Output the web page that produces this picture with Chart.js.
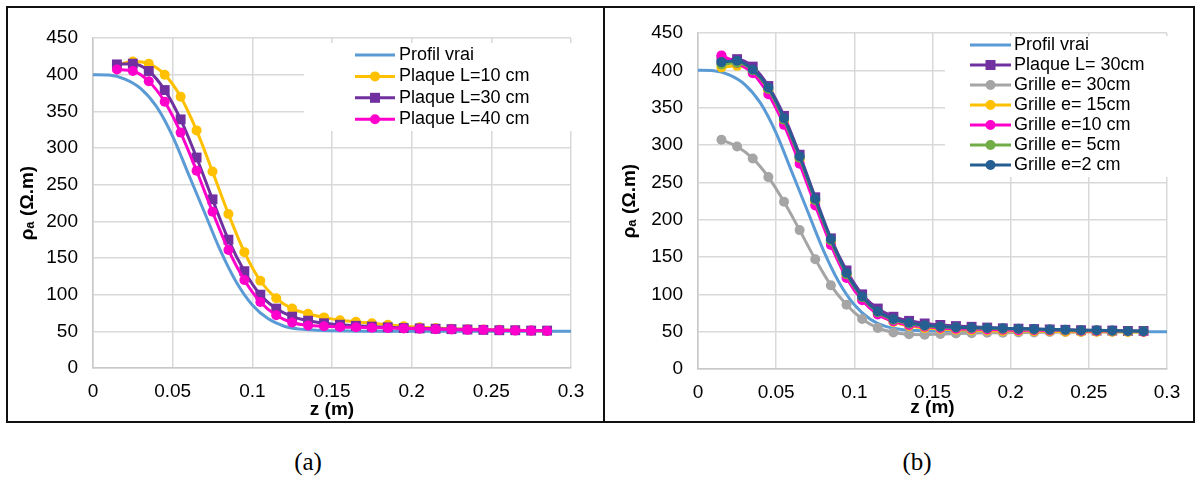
<!DOCTYPE html>
<html>
<head>
<meta charset="utf-8">
<script src="https://cdn.jsdelivr.net/npm/chart.js"></script>
<style>
  body { margin: 0; background: #fff; width: 1197px; height: 479px; position: relative; overflow: hidden; }
  canvas { position: absolute; top: 0; }
  #chartA { left: 0; }
  #chartB { left: 603px; }
  .frame { position: absolute; top: 6px; height: 417px; border: 2px solid #111; box-sizing: border-box; pointer-events: none; }
  .caption { position: absolute; top: 447px; width: 100px; line-height: 30px; text-align: center;
             font-family: 'Liberation Serif', 'Times New Roman', serif; font-size: 25px; color: #000; }
</style>
</head>
<body>
<canvas id="chartA" width="603" height="430"></canvas>
<canvas id="chartB" width="594" height="430"></canvas>
<div class="frame" style="left:6px; width:599px;"></div>
<div class="frame" style="left:603px; width:592px;"></div>
<div class="caption" style="left:258px;">(a)</div>
<div class="caption" style="left:867px;">(b)</div>

<script>
// depths (m) of the computed apparent resistivity points
var zPts = [0.015, 0.025, 0.035, 0.045, 0.055, 0.065, 0.075, 0.085, 0.095, 0.105,
            0.115, 0.125, 0.135, 0.145, 0.155, 0.165, 0.175, 0.185, 0.195, 0.205,
            0.215, 0.225, 0.235, 0.245, 0.255, 0.265, 0.275, 0.285];

// true profile
var zTrue = [0, 0.01, 0.02, 0.03, 0.04, 0.05, 0.06, 0.07, 0.08, 0.09, 0.1,
             0.11, 0.12, 0.13, 0.14, 0.15, 0.16, 0.17, 0.18, 0.19, 0.2,
             0.21, 0.22, 0.23, 0.24, 0.25, 0.26, 0.27, 0.28, 0.29, 0.3];
var rhoTrue = [400, 399.5, 394, 381, 356, 316, 264, 212, 160, 117, 86,
               67, 57, 53, 51.5, 50.8, 50.4, 50.2, 50.1, 50, 50,
               50, 50, 50, 50, 50, 50, 50, 50, 50, 50];

// (a) plates
var plaque10 = [413, 418, 415, 400, 370, 324, 268, 210, 158, 119, 95, 81, 74, 69,
                65, 63, 61, 59, 57, 55.5, 54.5, 53.5, 53, 52.5, 52, 51.5, 51, 50.5];
var plaque30 = [414, 415, 405, 379, 339, 287, 230, 175, 132, 100, 81, 70, 64.5, 61,
                59, 57.5, 56.5, 55.5, 54.5, 54, 53.5, 53, 52.5, 52, 51.5, 51.5, 51, 51];
var plaque40 = [407, 405, 391, 363, 321, 269, 213, 161, 120, 90, 72, 62, 58, 57,
                56, 55.5, 55, 54.5, 54, 53.5, 53, 52.5, 52, 52, 51.5, 51, 51, 50.5];

// (b) grids
var grille30 = [307, 298, 282, 257, 224, 186, 147, 112, 86, 67, 55, 49, 46.5, 46,
                47, 47.5, 48, 48.5, 48.5, 49, 49, 49.5, 49.5, 49.5, 50, 50, 50, 50];
var grille15 = [404, 406, 398, 372, 331, 280, 223, 169, 125, 94, 74, 63, 57.5, 55,
                53.5, 52.5, 52, 51.5, 51, 51, 50.5, 50.5, 50, 50, 50, 50, 49.5, 49.5];
var grille10 = [420, 410, 396, 368, 327, 275, 219, 166, 122, 92, 73, 64, 59, 56.5,
                55, 54, 53.5, 53, 52.5, 52, 52, 51.5, 51.5, 51, 51, 50.5, 50.5, 50];
var grille5 = [408, 410, 400, 375, 334, 283, 226, 172, 127, 96, 76, 66, 61, 58,
               56.5, 55.5, 55, 54.5, 54, 53.5, 53, 52.5, 52, 51.5, 51.5, 51, 50.5, 50.5];
var grille2 = [411, 413, 401, 377, 336, 285, 228, 174, 129, 97, 77, 67, 62, 58.5,
               57, 56, 55.5, 55, 54.5, 54, 53.5, 53, 52.5, 52, 52, 51.5, 51, 50.5];

var xTicks = [0, 0.05, 0.1, 0.15, 0.2, 0.25, 0.3];
var yTicks = [0, 50, 100, 150, 200, 250, 300, 350, 400, 450];

Chart.defaults.font.family = "'Liberation Sans', Arial, sans-serif";
Chart.defaults.color = '#000';

function pts(zs, vals) {
  return vals.map(function(v, i) { return {x: zs[i], y: v}; });
}

function series(label, vals, color, style) {
  return {
    label: label,
    data: pts(zPts, vals),
    borderColor: color,
    backgroundColor: color,
    borderWidth: 3,
    pointStyle: style,
    pointRadius: style == 'rect' ? 7 : 5,
    pointBackgroundColor: color,
    pointBorderColor: color,
    pointBorderWidth: 0,
    cubicInterpolationMode: 'monotone'
  };
}

function trueProfile() {
  return {
    label: 'Profil vrai',
    data: pts(zTrue, rhoTrue),
    borderColor: '#5b9bd5',
    borderWidth: 3,
    pointRadius: 0,
    cubicInterpolationMode: 'monotone'
  };
}

// legend drawn inside the plot, like the excel one
var insideLegend = {
  id: 'insideLegend',
  afterDraw: function(chart, args, opts) {
    var ctx = chart.ctx;
    ctx.save();
    ctx.fillStyle = '#fff';
    ctx.fillRect(opts.box[0], opts.box[1], opts.box[2] - opts.box[0], opts.box[3] - opts.box[1]);
    chart.data.datasets.forEach(function(ds, i) {
      var y = opts.top + i * opts.gap;
      ctx.strokeStyle = ds.borderColor;
      ctx.lineWidth = ds.borderWidth;
      ctx.beginPath();
      ctx.moveTo(opts.x0, y);
      ctx.lineTo(opts.x1, y);
      ctx.stroke();
      var mx = (opts.x0 + opts.x1) / 2;
      ctx.fillStyle = ds.borderColor;
      if (ds.pointRadius > 0 && ds.pointStyle == 'rect') {
        ctx.fillRect(mx - 5, y - 5, 10, 10);
      } else if (ds.pointRadius > 0) {
        ctx.beginPath();
        ctx.arc(mx, y, ds.pointRadius, 0, Math.PI * 2);
        ctx.fill();
      }
      ctx.fillStyle = '#000';
      ctx.font = "18px 'Liberation Sans', Arial, sans-serif";
      ctx.textBaseline = 'middle';
      ctx.textAlign = 'left';
      ctx.fillText(ds.label, opts.textX, y);
    });
    ctx.restore();
  }
};

function fmt(v) {
  return String(Math.round(v * 100) / 100);
}

function makeChart(id, datasets, geo) {
  // later series sit on top, as in excel
  datasets.forEach(function(ds, i) { ds.order = datasets.length - i; });
  return new Chart(document.getElementById(id), {
    type: 'line',
    data: { datasets: datasets },
    options: {
      responsive: false,
      animation: false,
      devicePixelRatio: 1,
      layout: { padding: { left: 0, top: geo.top, right: geo.right, bottom: 0 } },
      plugins: {
        legend: { display: false },
        tooltip: { enabled: false },
        insideLegend: geo.legend
      },
      scales: {
        x: {
          type: 'linear',
          min: xTicks[0],
          max: xTicks[xTicks.length - 1],
          afterFit: function(s) { s.height = geo.xh; },
          afterBuildTicks: function(s) { s.ticks = xTicks.map(function(v) { return {value: v}; }); },
          grid: { color: '#d9d9d9', lineWidth: 1.5, drawTicks: false },
          border: { color: '#c8c8c8', width: 1.5 },
          ticks: { padding: 12, font: { size: 19 }, callback: fmt, maxRotation: 0, autoSkip: false },
          title: { display: true, text: 'z (m)', font: { size: 19, weight: 'bold' }, padding: { top: 0, bottom: geo.xtp } }
        },
        y: {
          min: yTicks[0],
          max: yTicks[yTicks.length - 1],
          afterFit: function(s) { s.width = geo.yw; },
          afterBuildTicks: function(s) { s.ticks = yTicks.map(function(v) { return {value: v}; }); },
          grid: { color: '#d9d9d9', lineWidth: 1.5, drawTicks: false },
          border: { color: '#c8c8c8', width: 1.5 },
          ticks: { padding: 15, font: { size: 19 } },
          title: { display: true, text: 'ρₐ (Ω.m)', font: { size: 19, weight: 'bold' }, padding: { top: geo.ytp, bottom: 0 } }
        }
      }
    },
    plugins: [insideLegend]
  });
}

makeChart('chartA', [
  trueProfile(),
  series('Plaque L=10 cm', plaque10, '#ffc000', 'circle'),
  series('Plaque L=30 cm', plaque30, '#7030a0', 'rect'),
  series('Plaque L=40 cm', plaque40, '#ff00cc', 'circle')
], {
  top: 38, right: 32, yw: 93, xh: 62, ytp: 16, xtp: 9,
  legend: { box: [304, 43, 576, 131], x0: 355, x1: 395, textX: 399, top: 55, gap: 21.4 }
});

makeChart('chartB', [
  trueProfile(),
  series('Plaque L= 30cm', plaque30, '#7030a0', 'rect'),
  series('Grille e= 30cm', grille30, '#a5a5a5', 'circle'),
  series('Grille e= 15cm', grille15, '#ffc000', 'circle'),
  series('Grille e=10 cm', grille10, '#ff00cc', 'circle'),
  series('Grille e= 5cm', grille5, '#70ad47', 'circle'),
  series('Grille e=2 cm', grille2, '#255e91', 'circle')
], {
  top: 33, right: 30, yw: 95, xh: 61, ytp: 15, xtp: 11,
  legend: { box: [342, 36, 569, 177], x0: 367, x1: 408, textX: 411, top: 45, gap: 20 }
});
</script>
</body>
</html>
